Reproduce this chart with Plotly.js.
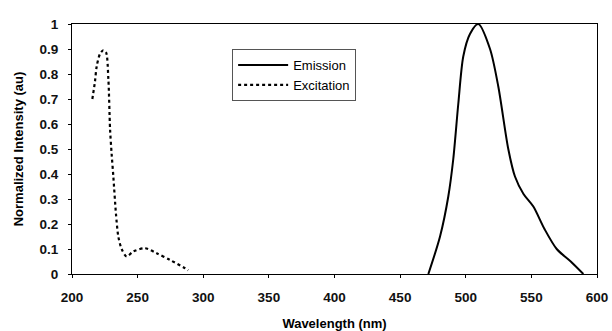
<!DOCTYPE html>
<html><head><meta charset="utf-8">
<script src="https://cdn.plot.ly/plotly-3.0.1.min.js"></script>
<style>html,body{margin:0;padding:0;background:#fff}#c{width:612px;height:331px}</style>
</head><body><div id="c"></div>
<script>
const excitationX = [215.5, 217.5, 218.8, 221.3, 223.8, 225.9, 227.7, 229, 230.2, 231.5, 233.5, 235.3, 237.8, 241.6, 246.7, 255.6, 264.5, 274.7, 286.1, 288.5];
const excitationY = [0.70, 0.77, 0.83, 0.88, 0.895, 0.887, 0.78, 0.58, 0.48, 0.39, 0.24, 0.15, 0.10, 0.07, 0.09, 0.103, 0.083, 0.056, 0.023, 0.015];
const emissionX = [471.5, 480.4, 486.7, 490.5, 494.3, 498.1, 503.2, 509.6, 518.5, 524.8, 532.4, 537.5, 544, 551.5, 560, 569.3, 580, 589.6];
const emissionY = [0, 0.15, 0.31, 0.46, 0.68, 0.87, 0.96, 1.0, 0.90, 0.75, 0.50, 0.39, 0.32, 0.27, 0.18, 0.10, 0.05, 0];
const xTicks = [200, 250, 300, 350, 400, 450, 500, 550, 600];
const yTicks = [0, 0.1, 0.2, 0.3, 0.4, 0.5, 0.6, 0.7, 0.8, 0.9, 1];
const yTickLabels = ['0', '0.1', '0.2', '0.3', '0.4', '0.5', '0.6', '0.7', '0.8', '0.9', '1'];

const data = [
  {x: emissionX, y: emissionY, name: 'Emission', mode: 'lines',
   line: {color: '#000', width: 2, shape: 'spline', smoothing: 0.8}},
  {x: excitationX, y: excitationY, name: 'Excitation', mode: 'lines',
   line: {color: '#000', width: 2.2, dash: 'dot', shape: 'spline', smoothing: 0.8}}
];
const fam = 'Arial, "Liberation Sans", sans-serif';
const tickFont = {family: fam, size: 13.5, color: '#111', weight: 'bold'};
const titleFont = {family: fam, size: 13, color: '#000'};
const layout = {
  width: 612, height: 331,
  margin: {l: 72, r: 15, t: 24, b: 57},
  paper_bgcolor: '#fff', plot_bgcolor: '#fff',
  font: {family: fam, size: 12, color: '#000'},
  showlegend: true,
  legend: {x: 0.305, y: 0.9, xanchor: 'left', yanchor: 'top',
    bgcolor: '#fff', bordercolor: '#555', borderwidth: 1,
    font: {family: fam, size: 13, color: '#000'},
    itemwidth: 50, tracegroupgap: 0},
  xaxis: {range: [200, 600], tickvals: xTicks, ticktext: xTicks.map(String),
    showgrid: false, zeroline: false, showline: true, linecolor: '#000', linewidth: 1,
    mirror: true, ticks: 'outside', ticklen: 3, tickcolor: '#000',
    ticklabelstandoff: 8,
    tickfont: tickFont,
    title: {text: '<b>Wavelength (nm)</b>', font: titleFont, standoff: 14}},
  yaxis: {range: [0, 1], tickvals: yTicks, ticktext: yTickLabels,
    showgrid: false, zeroline: false, showline: true, linecolor: '#000', linewidth: 1,
    mirror: true, ticks: 'outside', ticklen: 3, tickcolor: '#000',
    ticklabelstandoff: 7,
    tickfont: tickFont,
    title: {text: '<b>Normalized Intensity (au)</b>', font: titleFont, standoff: 12}}
};
Plotly.newPlot('c', data, layout, {staticPlot: true, displayModeBar: false});
</script></body></html>
